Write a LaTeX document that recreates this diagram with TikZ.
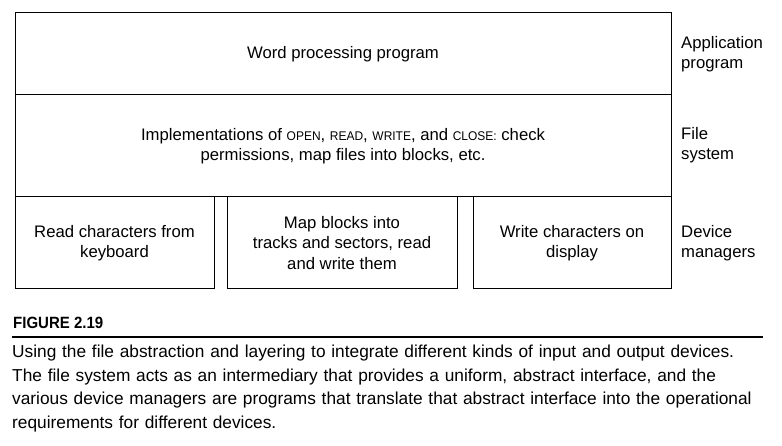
\documentclass[tikz,border=0pt]{standalone}
\usepackage{fontspec}
\setmainfont{Liberation Sans}
\newfontfamily\smcf{Liberation Sans}[FakeStretch=0.95]
\newfontfamily\capf{Liberation Sans}[FakeStretch=0.92]
\newcommand{\cw}[1]{{\smcf\fontsize{12.6}{16}\selectfont #1}}
\begin{document}
\begin{tikzpicture}[x=1pt,y=-1pt,
  box/.style={draw, line width=1pt, inner sep=0pt, align=center, font=\fontsize{16.7}{20.5}\selectfont},
  lab/.style={anchor=west, align=left, inner sep=0pt, font=\fontsize{16.7}{20}\selectfont},
  captext/.style={anchor=base west, align=left, inner sep=0pt, font=\fontsize{17.3}{23.4}\selectfont, text width=768}]
\useasboundingbox (0,0) rectangle (782,446);
\node[box, minimum width=656, minimum height=82] (app) at (343,54) {Word processing program};
\node[box, minimum width=656, minimum height=102] (fs) at (343,146) {Implementations of \cw{OPEN}, \cw{READ}, \cw{WRITE}, and \cw{CLOSE:} check\\permissions, map files into blocks, etc.};
\node[box, minimum width=199, minimum height=92] (kbd) at (114.5,243) {Read characters from\\keyboard};
\node[box, minimum width=230, minimum height=92] (disk) at (342,243) {Map blocks into\\tracks and sectors, read\\and write them};
\node[box, minimum width=198, minimum height=92] (disp) at (572,243) {Write characters on\\display};
\node[lab] (l1) at (681,54) {Application\\program};
\node[lab] (l2) at (681,145) {File\\system};
\node[lab] (l3) at (681,243) {Device\\managers};
\node[anchor=base west, inner sep=0pt, font=\capf\bfseries\fontsize{16.3}{18}\selectfont] (fig) at (13,329) {FIGURE 2.19};
\coordinate (r1) at (12,337);
\coordinate (r2) at (763,337);
\draw[line width=1.6pt] (r1) -- (r2);
\node[captext] (captxt) at (12,358) {Using the file abstraction and layering to integrate different kinds of input and output devices.\\
The file system acts as an intermediary that provides a uniform, abstract interface, and the\\
various device managers are programs that translate that abstract interface into the operational\\
requirements for different devices.};
\end{tikzpicture}
\end{document}
